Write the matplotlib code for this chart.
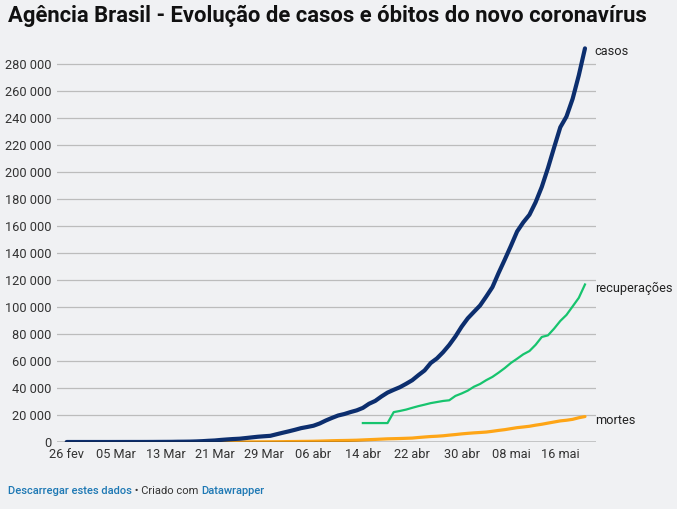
import matplotlib
matplotlib.use("Agg")
import matplotlib.pyplot as plt
import pandas as pd
import numpy as np

# ---------------- data ----------------
start_date = "2020-02-26"
casos = [1, 1, 1, 2, 2, 2, 2, 3, 8, 13, 19, 25, 25, 34, 52, 77, 98, 121, 200, 234,
         291, 428, 621, 904, 1128, 1546, 1891, 2201, 2433, 2915, 3417, 3904, 4256,
         4579, 5717, 6836, 7910, 9056, 10278, 11130, 12056, 13717, 15927, 17857,
         19638, 20727, 22169, 23430, 25262, 28320, 30425, 33682, 36599, 38654,
         40581, 43079, 45757, 49492, 52995, 58509, 61888, 66501, 71886, 78162,
         85380, 91589, 96396, 101147, 107780, 114715, 125218, 135106, 145328,
         155939, 162699, 168331, 177589, 188974, 202918, 218223, 233142, 241080,
         254220, 271628, 291579]
mortes = [0] * 20 + [1, 4, 6, 11, 18, 25, 34, 46, 57, 77, 92, 111, 136, 159, 201,
          240, 324, 359, 445, 486, 553, 667, 800, 941, 1056, 1124, 1223, 1328,
          1532, 1736, 1924, 2141, 2354, 2462, 2587, 2741, 2906, 3331, 3704, 4057,
          4286, 4603, 5083, 5513, 6006, 6412, 6761, 7051, 7367, 7938, 8588, 9146,
          9897, 10627, 11123, 11653, 12461, 13149, 13993, 14817, 15633, 16118,
          16792, 17971, 18859]
recup_start = "2020-04-14"
recuperacoes = [14026, 14026, 14026, 14026, 14026, 22130, 22991, 24000, 25318,
                26573, 27655, 28800, 29600, 30400, 30900, 34132, 35935, 38039,
                40937, 42991, 45815, 48221, 51370, 54763, 58573, 61685, 64957,
                67384, 72000, 77800, 79000, 84000, 89672, 94122, 100459, 106794,
                116683]
tick_dates = ["2020-02-26", "2020-03-05", "2020-03-13", "2020-03-21", "2020-03-29",
              "2020-04-06", "2020-04-14", "2020-04-22", "2020-04-30", "2020-05-08",
              "2020-05-16"]
tick_labels = ["26 fev", "05 Mar", "13 Mar", "21 Mar", "29 Mar", "06 abr",
               "14 abr", "22 abr", "30 abr", "08 mai", "16 mai"]
y_ticks = list(range(0, 280001, 20000))
y_labels = ["0" if v == 0 else f"{v // 1000} 000" for v in y_ticks]
series_labels = ["casos", "recuperações", "mortes"]

title = "Agência Brasil - Evolução de casos e óbitos do novo coronavírus"

# ---------------- figure ----------------
W, H = 677, 509
DPI = 100
BG = "#f0f1f3"
C_CASOS = "#0c2e6e"
C_REC = "#17c46e"
C_MORT = "#fea516"
LINK = "#1d78b4"

plt.rcParams["font.family"] = ["Roboto", "DejaVu Sans"]
fig = plt.figure(figsize=(W / DPI, H / DPI), dpi=DPI, facecolor=BG)

x0, x1 = 57, 596
y0, y1 = 442, 37
ax = fig.add_axes([x0 / W, 1 - y0 / H, (x1 - x0) / W, (y0 - y1) / H])
ax.set_facecolor(BG)

d_all = pd.date_range(start_date, periods=len(casos), freq="D")
d_rec = pd.date_range(recup_start, periods=len(recuperacoes), freq="D")

ax.plot(d_all, mortes, color=C_MORT, lw=2.3, solid_capstyle="round", zorder=3)
ax.plot(d_rec, recuperacoes, color=C_REC, lw=1.6, zorder=4)
ax.plot(d_all, casos, color=C_CASOS, lw=3.0, solid_capstyle="round", zorder=5)

day_px = 6.17
left_lim = pd.Timestamp(start_date) - pd.Timedelta(days=(66.7 - x0) / day_px)
right_lim = pd.Timestamp(start_date) + pd.Timedelta(days=(x1 - 66.7) / day_px)
ax.set_xlim(left_lim, right_lim)
ax.set_ylim(0, 20000 * (y0 - y1) / 27)

for v in y_ticks[1:]:
    ax.axhline(v, color="#bcbcbc", lw=0.9, zorder=1)
ax.axhline(0, color="#111111", lw=1.0, zorder=6)

for s in ax.spines.values():
    s.set_visible(False)
ax.set_yticks(y_ticks)
ax.set_yticklabels(y_labels, fontsize=9.2, color="#333333")
ax.tick_params(axis="y", length=0, pad=4)
ax.set_xticks(pd.to_datetime(tick_dates))
ax.set_xticklabels(tick_labels, fontsize=9.2, color="#333333")
ax.tick_params(axis="x", length=0, pad=4.5)

# end labels
for xv, yv, lab in [(d_all[-1], casos[-1], series_labels[0]),
                    (d_rec[-1], recuperacoes[-1], series_labels[1]),
                    (d_all[-1], mortes[-1], series_labels[2])]:
    ax.annotate(lab, (xv, yv), xytext=(7, -2.6), textcoords="offset points",
                fontsize=9.2, color="#222222", va="center", ha="left",
                annotation_clip=False)

# title: fit width
t = fig.text(8 / W, 1 - 5 / H, title, fontsize=17, fontweight="bold",
             family=["Liberation Sans Narrow", "Roboto", "DejaVu Sans"],
             color="#111111", ha="left", va="top")
fig.canvas.draw()
r = fig.canvas.get_renderer()
bb = t.get_window_extent(r)
target = 645 - 8
t.set_fontsize(17 * target / bb.width)

# footer
fy = 1 - 491 / H
fs = 8.0
f1 = fig.text(8 / W, fy, "Descarregar estes dados", fontsize=fs, color=LINK,
              ha="left", va="center", fontweight="medium")
fig.canvas.draw()
b1 = f1.get_window_extent(r)
f2 = fig.text(b1.x1 / W, fy, " • Criado com ", fontsize=fs, color="#333333",
              ha="left", va="center")
fig.canvas.draw()
b2 = f2.get_window_extent(r)
fig.text(b2.x1 / W, fy, "Datawrapper", fontsize=fs, color=LINK, ha="left",
         va="center", fontweight="medium")

fig.savefig("out.png", dpi=DPI, facecolor=BG)
